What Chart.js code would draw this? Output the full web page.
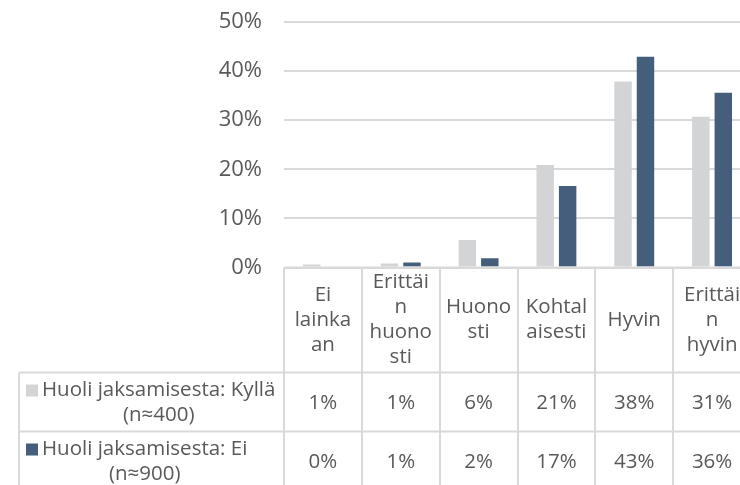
<!DOCTYPE html>
<html>
<head>
<meta charset="utf-8">
<script src="https://cdn.jsdelivr.net/npm/chart.js@4/dist/chart.umd.min.js"></script>
<style>
html,body{margin:0;padding:0;background:#fff;overflow:hidden;}
#wrap{width:740px;height:485px;overflow:hidden;position:relative;}
canvas{position:absolute;left:0;top:0;}
</style>
</head>
<body>
<div id="wrap"><canvas id="c" width="760" height="485"></canvas></div>
<script>
// ---- data ----
const categories = [
  ["Ei", "lainka", "an"],
  ["Erittäi", "n", "huono", "sti"],
  ["Huono", "sti"],
  ["Kohtal", "aisesti"],
  ["Hyvin"],
  ["Erittäi", "n", "hyvin"]
];
const seriesKylla = [0.6, 0.8, 5.6, 20.9, 37.9, 30.7];
const seriesEi = [0, 1.0, 1.9, 16.6, 42.9, 35.6];
const seriesNames = [
  ["Huoli jaksamisesta: Kyllä", "(n≈400)"],
  ["Huoli jaksamisesta: Ei", "(n≈900)"]
];
const yTicks = [0, 10, 20, 30, 40, 50];

const FONT = "'Open Sans', sans-serif";
const FS = 20.5;
const TXT = "#595959";
const LINE = "#d9d9d9";
const colors = ["#d3d4d6", "#455e7b"];

const tablePlugin = {
  id: "dataTable",
  afterDraw(chart) {
    const ctx = chart.ctx;
    const ca = chart.chartArea;
    const xs = chart.scales.x;
    const n = categories.length;
    const colW = (ca.right - ca.left) / n;
    const H = chart.height;
    const headerBottom = ca.bottom + 105;
    const rowH = 59;
    const tableLeft = 19;
    const lh = 25;
    ctx.save();
    ctx.strokeStyle = LINE;
    ctx.lineWidth = 2;
    for (let i = 0; i <= n; i++) {
      const x = Math.round(ca.left + i * colW);
      ctx.beginPath(); ctx.moveTo(x, ca.bottom); ctx.lineTo(x, H); ctx.stroke();
    }
    ctx.beginPath(); ctx.moveTo(tableLeft, headerBottom); ctx.lineTo(tableLeft, H); ctx.stroke();
    for (let r = 0; r < 2; r++) {
      const y = headerBottom + r * rowH;
      ctx.beginPath(); ctx.moveTo(tableLeft, y); ctx.lineTo(ca.right, y); ctx.stroke();
    }
    ctx.beginPath(); ctx.moveTo(ca.left, ca.bottom); ctx.lineTo(ca.right, ca.bottom); ctx.stroke();
    ctx.fillStyle = TXT;
    ctx.font = FS + "px " + FONT;
    ctx.textAlign = "center";
    ctx.textBaseline = "middle";
    const hMid = (ca.bottom + headerBottom) / 2;
    categories.forEach((lines, i) => {
      const cx = xs.getPixelForValue(i);
      const y0 = hMid - (lines.length - 1) * lh / 2;
      lines.forEach((t, k) => ctx.fillText(t, cx, y0 + k * lh));
    });
    const series = [seriesKylla, seriesEi];
    series.forEach((vals, r) => {
      const top = headerBottom + r * rowH;
      const mid = top + rowH / 2 + 1;
      vals.forEach((v, i) => {
        ctx.fillText(Math.round(v) + "%", xs.getPixelForValue(i), mid);
      });
      const lines = seriesNames[r];
      const widths = lines.map(t => ctx.measureText(t).width);
      const bw = Math.max(...widths);
      const tx = 42;
      const y0 = mid - (lines.length - 1) * lh / 2;
      ctx.fillStyle = colors[r];
      ctx.fillRect(26, y0 - 6, 12, 12);
      ctx.fillStyle = TXT;
      lines.forEach((t, k) => ctx.fillText(t, tx + bw / 2, y0 + k * lh));
    });
    ctx.restore();
  }
};

new Chart(document.getElementById("c"), {
  type: "bar",
  data: {
    labels: categories,
    datasets: [
      { label: seriesNames[0].join(" "), data: seriesKylla, backgroundColor: colors[0] },
      { label: seriesNames[1].join(" "), data: seriesEi, backgroundColor: colors[1] }
    ]
  },
  options: {
    responsive: false,
    animation: false,
    devicePixelRatio: 1,
    layout: { padding: { top: 22, right: 9, bottom: 217.5, left: 0 } },
    plugins: { legend: { display: false }, tooltip: { enabled: false } },
    datasets: { bar: { categoryPercentage: 0.577, barPercentage: 0.777 } },
    scales: {
      x: { display: false },
      y: {
        min: 0, max: 50,
        afterFit(s) { s.width = 284; s.paddingTop = 0; s.paddingBottom = 0; },
        afterBuildTicks(s) { s.ticks = yTicks.map(v => ({ value: v })); },
        ticks: { color: TXT, font: { family: FONT, size: 22 }, padding: 22, callback: v => v + "%" },
        grid: { color: LINE, lineWidth: 2, drawTicks: false },
        border: { display: false }
      }
    }
  },
  plugins: [tablePlugin]
});
</script>
</body>
</html>
